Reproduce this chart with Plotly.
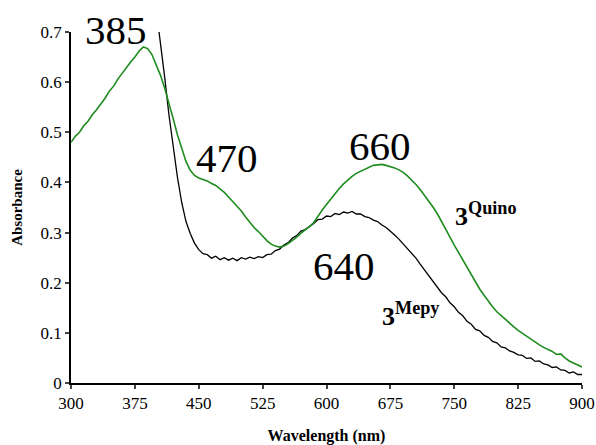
import plotly.graph_objects as go

# Green spectrum (3-Quino), read every 5 nm
quino_wl = list(range(300, 901, 5))
quino_abs = [0.48, 0.492, 0.50, 0.513, 0.522, 0.535, 0.545, 0.556, 0.568, 0.582, 0.592, 0.606, 0.618, 0.630,
             0.640, 0.650, 0.662, 0.670, 0.667, 0.655, 0.635, 0.614, 0.588, 0.56, 0.527, 0.495, 0.466, 0.442,
             0.424, 0.414, 0.409, 0.406, 0.403, 0.398, 0.394, 0.387, 0.38, 0.371, 0.362, 0.352, 0.343,
             0.331, 0.32, 0.31, 0.302, 0.292, 0.284, 0.277, 0.273, 0.271, 0.273, 0.278, 0.284, 0.291,
             0.299, 0.305, 0.312, 0.32, 0.333, 0.345, 0.356, 0.367, 0.378, 0.388, 0.397, 0.405, 0.412,
             0.418, 0.422, 0.427, 0.431, 0.434, 0.435, 0.436, 0.434, 0.432, 0.429, 0.425, 0.42, 0.413,
             0.405, 0.396, 0.386, 0.375, 0.363, 0.351, 0.338, 0.323, 0.307, 0.291, 0.275, 0.26, 0.245,
             0.23, 0.214, 0.20, 0.187, 0.175, 0.163, 0.152, 0.142, 0.134, 0.126, 0.119, 0.112, 0.105,
             0.099, 0.093, 0.087, 0.081, 0.076, 0.071, 0.067, 0.063, 0.057, 0.058, 0.05, 0.044, 0.04,
             0.036, 0.032]

# Black spectrum (3-Mepy), read every 5 nm from where it enters the frame
mepy_wl = [403] + list(range(405, 901, 5))
mepy_abs = [0.705, 0.68, 0.61, 0.535, 0.47, 0.41, 0.36, 0.322, 0.298, 0.279, 0.266, 0.258, 0.256, 0.249,
            0.253, 0.246, 0.25, 0.245, 0.249, 0.244, 0.25, 0.247, 0.251, 0.248, 0.252, 0.25, 0.256, 0.257,
            0.264, 0.267, 0.275, 0.28, 0.289, 0.294, 0.303, 0.306, 0.312, 0.318, 0.326, 0.327, 0.333,
            0.332, 0.338, 0.336, 0.341, 0.339, 0.342, 0.337, 0.337, 0.332, 0.33, 0.325, 0.322, 0.315,
            0.31, 0.303, 0.295, 0.287, 0.278, 0.269, 0.258, 0.249, 0.237, 0.226, 0.214, 0.203, 0.193,
            0.18, 0.172, 0.16, 0.152, 0.141, 0.134, 0.123, 0.117, 0.107, 0.104, 0.095, 0.091, 0.083,
            0.08, 0.072, 0.07, 0.064, 0.061, 0.056, 0.055, 0.049, 0.05, 0.043, 0.044, 0.038, 0.036,
            0.031, 0.032, 0.026, 0.025, 0.02, 0.022, 0.017, 0.017]

x_ticks = [300, 375, 450, 525, 600, 675, 750, 825, 900]
y_ticks = [0, 0.1, 0.2, 0.3, 0.4, 0.5, 0.6, 0.7]
y_tick_labels = ["0", "0.1", "0.2", "0.3", "0.4", "0.5", "0.6", "0.7"]

peak_labels = ["470", "660", "640"]
peak_x = [483, 662.7, 620.5]
peak_y = [0.449, 0.473, 0.233]

SERIF = "Times New Roman"

fig = go.Figure()
fig.add_trace(go.Scatter(x=mepy_wl, y=mepy_abs, mode="lines",
                         line=dict(color="black", width=1.3), showlegend=False))
fig.add_trace(go.Scatter(x=quino_wl, y=quino_abs, mode="lines",
                         line=dict(color="#1e8c1e", width=1.6), showlegend=False))

# 385 label sits above the top of the frame, so place it in paper coordinates
fig.add_annotation(x=352.8, y=0.704 / 0.7, yref="paper", text="385", showarrow=False,
                   font=dict(family=SERIF, size=41, color="black"),
                   xanchor="center", yanchor="middle")
for t, x, y in zip(peak_labels, peak_x, peak_y):
    fig.add_annotation(x=x, y=y, text=t, showarrow=False,
                       font=dict(family=SERIF, size=41, color="black"),
                       xanchor="center", yanchor="middle")

fig.add_annotation(x=748.4, y=0.337, text="<b>3<sup>Quino</sup></b>", showarrow=False,
                   font=dict(family=SERIF, size=26, color="black"), xanchor="left", yanchor="middle")
fig.add_annotation(x=662.7, y=0.136, text="<b>3<sup>Mepy</sup></b>", showarrow=False,
                   font=dict(family=SERIF, size=26, color="black"), xanchor="left", yanchor="middle")

fig.update_layout(
    width=596, height=445,
    margin=dict(l=71, r=14, t=32, b=62, autoexpand=False),
    plot_bgcolor="white", paper_bgcolor="white",
    font=dict(family=SERIF, size=15, color="black"),
    xaxis=dict(range=[300, 900], tickvals=x_ticks, ticks="outside", ticklen=4, tickwidth=1.5,
               showline=True, linecolor="black", linewidth=1.5, showgrid=False, zeroline=False,
               automargin=False, tickfont=dict(family=SERIF, size=17),
               title=dict(text="<b>Wavelength (nm)</b>", font=dict(family=SERIF, size=16), standoff=20)),
    yaxis=dict(range=[0, 0.7], tickvals=y_ticks, ticktext=y_tick_labels, ticks="outside", ticklen=4,
               tickwidth=1.5, showline=True, linecolor="black", linewidth=1.5, showgrid=False,
               zeroline=False, automargin=False, tickfont=dict(family=SERIF, size=17),
               title=dict(text="<b>Absorbance</b>", font=dict(family=SERIF, size=15), standoff=14)),
)

fig.write_html("out.html", config={"displayModeBar": False},
               post_script="document.body.style.margin='0';document.body.style.padding='0';")
